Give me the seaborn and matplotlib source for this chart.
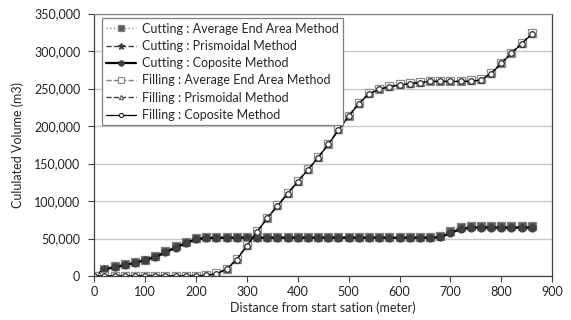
import numpy as np
import pandas as pd
import matplotlib
matplotlib.use("Agg")
import matplotlib.pyplot as plt
import matplotlib.ticker as mticker
import seaborn as sns

# distance stations (m)
distance = [0, 20, 40, 60, 80, 100, 120, 140, 160, 180, 200, 220, 240, 260, 280,
            300, 320, 340, 360, 380, 400, 420, 440, 460, 480, 500, 520, 540, 560,
            580, 600, 620, 640, 660, 680, 700, 720, 740, 760, 780, 800, 820, 840, 860]

# cumulative cutting volumes (m3)
cut_avg_end = [0, 9500, 12800, 15500, 18500, 22000, 27000, 33000, 39500, 45500, 50500,
               52000, 52500, 52500, 52500, 52500, 52500, 52500, 52500, 52500, 52500,
               52500, 52500, 52500, 52500, 52500, 52500, 52500, 52500, 52500, 52500,
               52500, 52500, 52500, 53000, 59500, 65500, 67000, 67000, 67000, 67000,
               67000, 67000, 67000]
cut_prismoidal = [0, 8700, 12200, 14700, 17700, 21200, 25800, 31800, 38300, 44300, 49300,
                  50800, 51300, 51300, 51300, 51300, 51300, 51300, 51300, 51300, 51300,
                  51300, 51300, 51300, 51300, 51300, 51300, 51300, 51300, 51300, 51300,
                  51300, 51300, 51300, 51800, 57800, 62800, 64800, 64800, 64800, 64800,
                  64800, 64800, 64800]
cut_composite = [0, 8500, 12000, 14500, 17500, 21000, 25500, 31500, 38000, 44000, 49000,
                 50500, 51000, 51000, 51000, 51000, 51000, 51000, 51000, 51000, 51000,
                 51000, 51000, 51000, 51000, 51000, 51000, 51000, 51000, 51000, 51000,
                 51000, 51000, 51000, 51500, 57500, 62500, 64500, 64500, 64500, 64500,
                 64500, 64500, 64500]

# cumulative filling volumes (m3)
fill_avg_end = [0, 0, 0, 0, 0, 0, 0, 0, 0, 0, 0, 1000, 3500, 9500, 23000, 41000, 60000,
                78000, 94500, 110500, 127000, 142500, 159000, 176500, 195500, 214000,
                231000, 244000, 250000, 253500, 255500, 257500, 259000, 260500, 260500,
                260500, 260500, 261000, 263000, 271000, 284500, 298000, 311000, 323500]
fill_prismoidal = [0, 0, 0, 0, 0, 0, 0, 0, 0, 0, 0, 800, 3000, 9000, 22000, 40000, 59000,
                   77000, 93500, 109500, 126000, 141500, 158000, 175500, 194500, 213000,
                   230000, 243000, 249000, 252500, 254500, 256500, 258000, 259500, 259500,
                   259500, 259500, 259500, 261500, 270000, 283500, 297000, 310000, 322500]
fill_composite = [0, 0, 0, 0, 0, 0, 0, 0, 0, 0, 0, 800, 3000, 9000, 22000, 40000, 59000,
                  77000, 93500, 109500, 126000, 141500, 158000, 175500, 194500, 213000,
                  230000, 243000, 249000, 252500, 254500, 256500, 258000, 259500, 259500,
                  259500, 259500, 259500, 261500, 270000, 283500, 297000, 310000, 322500]

series = [
    ("Cutting : Average End Area Method", cut_avg_end,
     dict(color="#8c8c8c", linestyle=":", lw=1.0, marker="s", ms=6,
          mfc="#5a5a5a", mec="#7f7f7f")),
    ("Cutting : Prismoidal Method", cut_prismoidal,
     dict(color="#3c3c3c", linestyle="--", lw=1.0, marker="*", ms=6,
          mfc="#3c3c3c", mec="#3c3c3c")),
    ("Cutting : Coposite Method", cut_composite,
     dict(color="black", linestyle="-", lw=1.6, marker="o", ms=5,
          mfc="#404040", mec="#404040")),
    ("Filling : Average End Area Method", fill_avg_end,
     dict(color="#7f7f7f", linestyle="--", lw=1.0, marker="s", ms=5.5,
          mfc="white", mec="#8c8c8c")),
    ("Filling : Prismoidal Method", fill_prismoidal,
     dict(color="#404040", linestyle="--", lw=1.0, marker="^", ms=4,
          mfc="white", mec="#606060")),
    ("Filling : Coposite Method", fill_composite,
     dict(color="black", linestyle="-", lw=0.9, marker="o", ms=4,
          mfc="white", mec="#303030")),
]

sns.set_style("white")
plt.rcParams["font.family"] = ["Lato", "DejaVu Sans"]

fig = plt.figure(figsize=(5.71, 3.2), dpi=100)
ax = fig.add_axes([0.165, 0.1375, 0.802, 0.82])

for label, values, style in series:
    df = pd.DataFrame({"distance": distance, "volume": values})
    sns.lineplot(data=df, x="distance", y="volume", ax=ax, label=label,
                 markeredgewidth=0.9, **style)

ax.set_xlim(0, 900)
ax.set_ylim(0, 350000)
ax.set_xticks(range(0, 901, 100))
ax.set_yticks(range(0, 350001, 50000))
ax.yaxis.set_major_formatter(mticker.StrMethodFormatter("{x:,.0f}"))
ax.grid(axis="y", color="#c8c8c8", lw=1.0)
ax.set_axisbelow(True)

for side in ["left", "bottom", "right", "top"]:
    ax.spines[side].set_color("#808080" if side == "top" else "#404040")
    ax.spines[side].set_linewidth(0.9)

ax.tick_params(axis="both", direction="out", length=4, width=0.8,
               color="#404040", labelsize=9, labelcolor="#222222",
               bottom=True, left=True)
ax.tick_params(axis="y", pad=6)
ax.set_xlabel("Distance from start sation (meter)", fontsize=9, labelpad=2)
ax.set_ylabel("Cululated Volume (m3)", fontsize=9, labelpad=7)

leg = ax.legend(loc="upper left", bbox_to_anchor=(0.016, 0.982), borderaxespad=0,
                fontsize=9, frameon=True, fancybox=False, handlelength=2.4,
                handletextpad=0.5, labelspacing=0.42, borderpad=0.35,
                markerscale=0.75)
leg.get_frame().set_edgecolor("#808080")
leg.get_frame().set_linewidth(0.9)
leg.get_frame().set_alpha(1)

fig.savefig("out.png", dpi=100)
